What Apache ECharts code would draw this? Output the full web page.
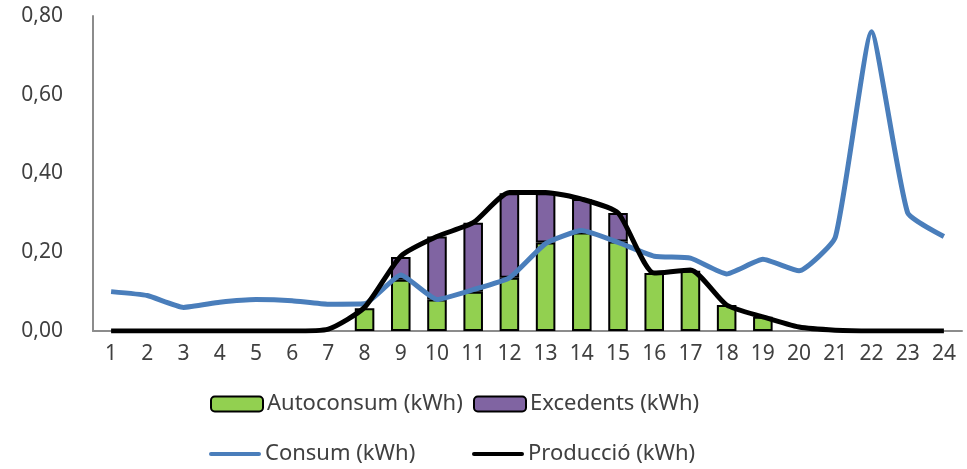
<!DOCTYPE html>
<html><head><meta charset="utf-8">
<script src="https://cdn.jsdelivr.net/npm/echarts@6/dist/echarts.min.js"></script>
<style>html,body{margin:0;padding:0;background:#fff}#c{width:967px;height:469px}</style>
</head><body><div id="c"></div>
<script>
const hours = ['1','2','3','4','5','6','7','8','9','10','11','12','13','14','15','16','17','18','19','20','21','22','23','24'];
const autoconsum = [null,null,null,null,null,null,null,0.058,0.13,0.08,0.10,0.135,0.225,0.25,0.227,0.147,0.153,0.066,0.036,null,null,null,null,null];
const excedents = [null,null,null,null,null,null,null,null,0.058,0.16,0.175,0.215,0.125,0.085,0.073,null,null,null,null,null,null,null,null,null];
const consum = [0.10,0.09,0.06,0.073,0.08,0.077,0.068,0.069,0.142,0.08,0.105,0.135,0.222,0.255,0.225,0.19,0.185,0.145,0.182,0.153,0.238,0.76,0.30,0.24];
const produccio = [0,0,0,0,0,0,0.005,0.06,0.19,0.24,0.275,0.352,0.352,0.335,0.30,0.147,0.155,0.066,0.036,0.01,0.002,0,0,0];
const yTicks = [0,0.2,0.4,0.6,0.8];

const FONT = 'Noto Sans';
const TXT = '#404040';
const chart = echarts.init(document.getElementById('c'));
const legendBase = {itemWidth:52, itemGap:4, textStyle:{fontFamily:FONT,fontSize:22,color:TXT,padding:[0,0,0,-1]}, selectedMode:false};
const lineIcon = 'path://M2,0 L50,0 A2,2 0 0 1 50,4 L2,4 A2,2 0 0 1 2,0 Z';
chart.setOption({
  animation:false,
  grid:{left:93,top:16,right:5,bottom:138,containLabel:false},
  legend:[
    Object.assign({}, legendBase, {itemHeight:15, data:[{name:'Autoconsum (kWh)', itemStyle:{borderColor:'#000',borderWidth:2}}], left:205, top:388}),
    Object.assign({}, legendBase, {itemHeight:15, data:[{name:'Excedents (kWh)', itemStyle:{borderColor:'#000',borderWidth:2}}], left:468, top:388}),
    Object.assign({}, legendBase, {itemHeight:5, data:[{name:'Consum (kWh)', icon:lineIcon}], left:204, top:438}),
    Object.assign({}, legendBase, {itemHeight:5, data:[{name:'Producció (kWh)', icon:lineIcon}], left:467, top:438})
  ],
  xAxis:{type:'category', data:hours, boundaryGap:true,
    axisLine:{lineStyle:{color:'#8c8c8c',width:2}}, axisTick:{show:false},
    axisLabel:{fontFamily:FONT,fontSize:21,color:TXT,margin:13}},
  yAxis:{type:'value', min:0, max:0.8, interval:0.2,
    axisLine:{show:true,lineStyle:{color:'#8c8c8c',width:2}}, axisTick:{show:false}, splitLine:{show:false},
    axisLabel:{fontFamily:FONT,fontSize:21,color:TXT,margin:30,formatter:v=>v.toFixed(2).replace('.',',')}},
  series:[
    {name:'Autoconsum (kWh)', type:'bar', stack:'p', data:autoconsum, barWidth:'54%',
      itemStyle:{color:'#92D050',borderColor:'#000',borderWidth:2}},
    {name:'Excedents (kWh)', type:'bar', stack:'p', data:excedents, barWidth:'54%',
      itemStyle:{color:'#8064A2',borderColor:'#000',borderWidth:2}},
    {name:'Consum (kWh)', type:'line', data:consum, smooth:0.15, showSymbol:false, symbol:'none',
      lineStyle:{color:'#4A7EBB',width:5}, itemStyle:{color:'#4A7EBB'}, z:3},
    {name:'Producció (kWh)', type:'line', data:produccio, smooth:0.2, showSymbol:false, symbol:'none',
      lineStyle:{color:'#000',width:5}, itemStyle:{color:'#000'}, z:4}
  ]
});
</script></body></html>
